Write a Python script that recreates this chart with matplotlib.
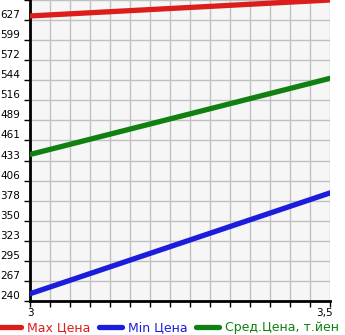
import matplotlib
matplotlib.use("Agg")
import matplotlib.pyplot as plt
import matplotlib.transforms as mtransforms

x_vals = [3.0, 3.5]
max_price = [633, 655]
min_price = [250, 389]
avg_price = [442, 547]
y_ticks = [240 + 415 / 15 * k for k in range(16)]
y_labels = ["240", "267", "295", "323", "350", "378", "406", "433", "461",
            "489", "516", "544", "572", "599", "627", ""]
x_ticks = [3 + 0.5 / 15 * k for k in range(16)]
x_labels = ["3"] + [""] * 14 + ["3,5"]
series_names = ["Max Цена", "Min Цена", "Сред.Цена, т.йен"]
colors = ["#dd1c1c", "#1c1cdd", "#108010"]

fig = plt.figure(figsize=(3.45, 3.35), dpi=100)
ax = fig.add_axes([30 / 345, 34 / 335, 300 / 345, 301 / 335])
ax.set_facecolor("#f6f6f6")
lines = []
for vals, c, name in zip([max_price, min_price, avg_price], colors, series_names):
    ln, = ax.plot(x_vals, vals, color=c, lw=3.8, solid_capstyle="round", label=name, zorder=3)
    lines.append(ln)
ax.set_xlim(3, 3.5)
ax.set_ylim(240, 655)
ax.set_yticks(y_ticks)
ax.set_yticklabels(y_labels, fontsize=7.5)
ax.set_xticks(x_ticks)
ax.set_xticklabels(x_labels, fontsize=7.5)
ax.grid(True, color="#c0c0c0", lw=1)
ax.set_axisbelow(True)
for s in ["top", "right"]:
    ax.spines[s].set_visible(False)
ax.spines["left"].set_linewidth(2)
ax.spines["bottom"].set_linewidth(2)
ax.tick_params(axis="both", length=4, width=1, color="black")
ax.tick_params(axis="y", pad=3)
ax.tick_params(axis="x", pad=1)
for lbl in ax.get_yticklabels():
    lbl.set_verticalalignment("bottom")
xl = ax.get_xticklabels()
xl[-1].set_horizontalalignment("right")
xl[-1].set_transform(xl[-1].get_transform() + mtransforms.ScaledTranslation(3 / 100, 0, fig.dpi_scale_trans))

leg = fig.legend(handles=lines, loc="center left", bbox_to_anchor=(-0.005, 7.5 / 335),
                 ncol=3, frameon=False, fontsize=9.0, handlelength=1.85,
                 handletextpad=0.45, columnspacing=0.7, labelcolor="linecolor",
                 borderaxespad=0, borderpad=0.0)
fig.savefig("out.png", dpi=100)
